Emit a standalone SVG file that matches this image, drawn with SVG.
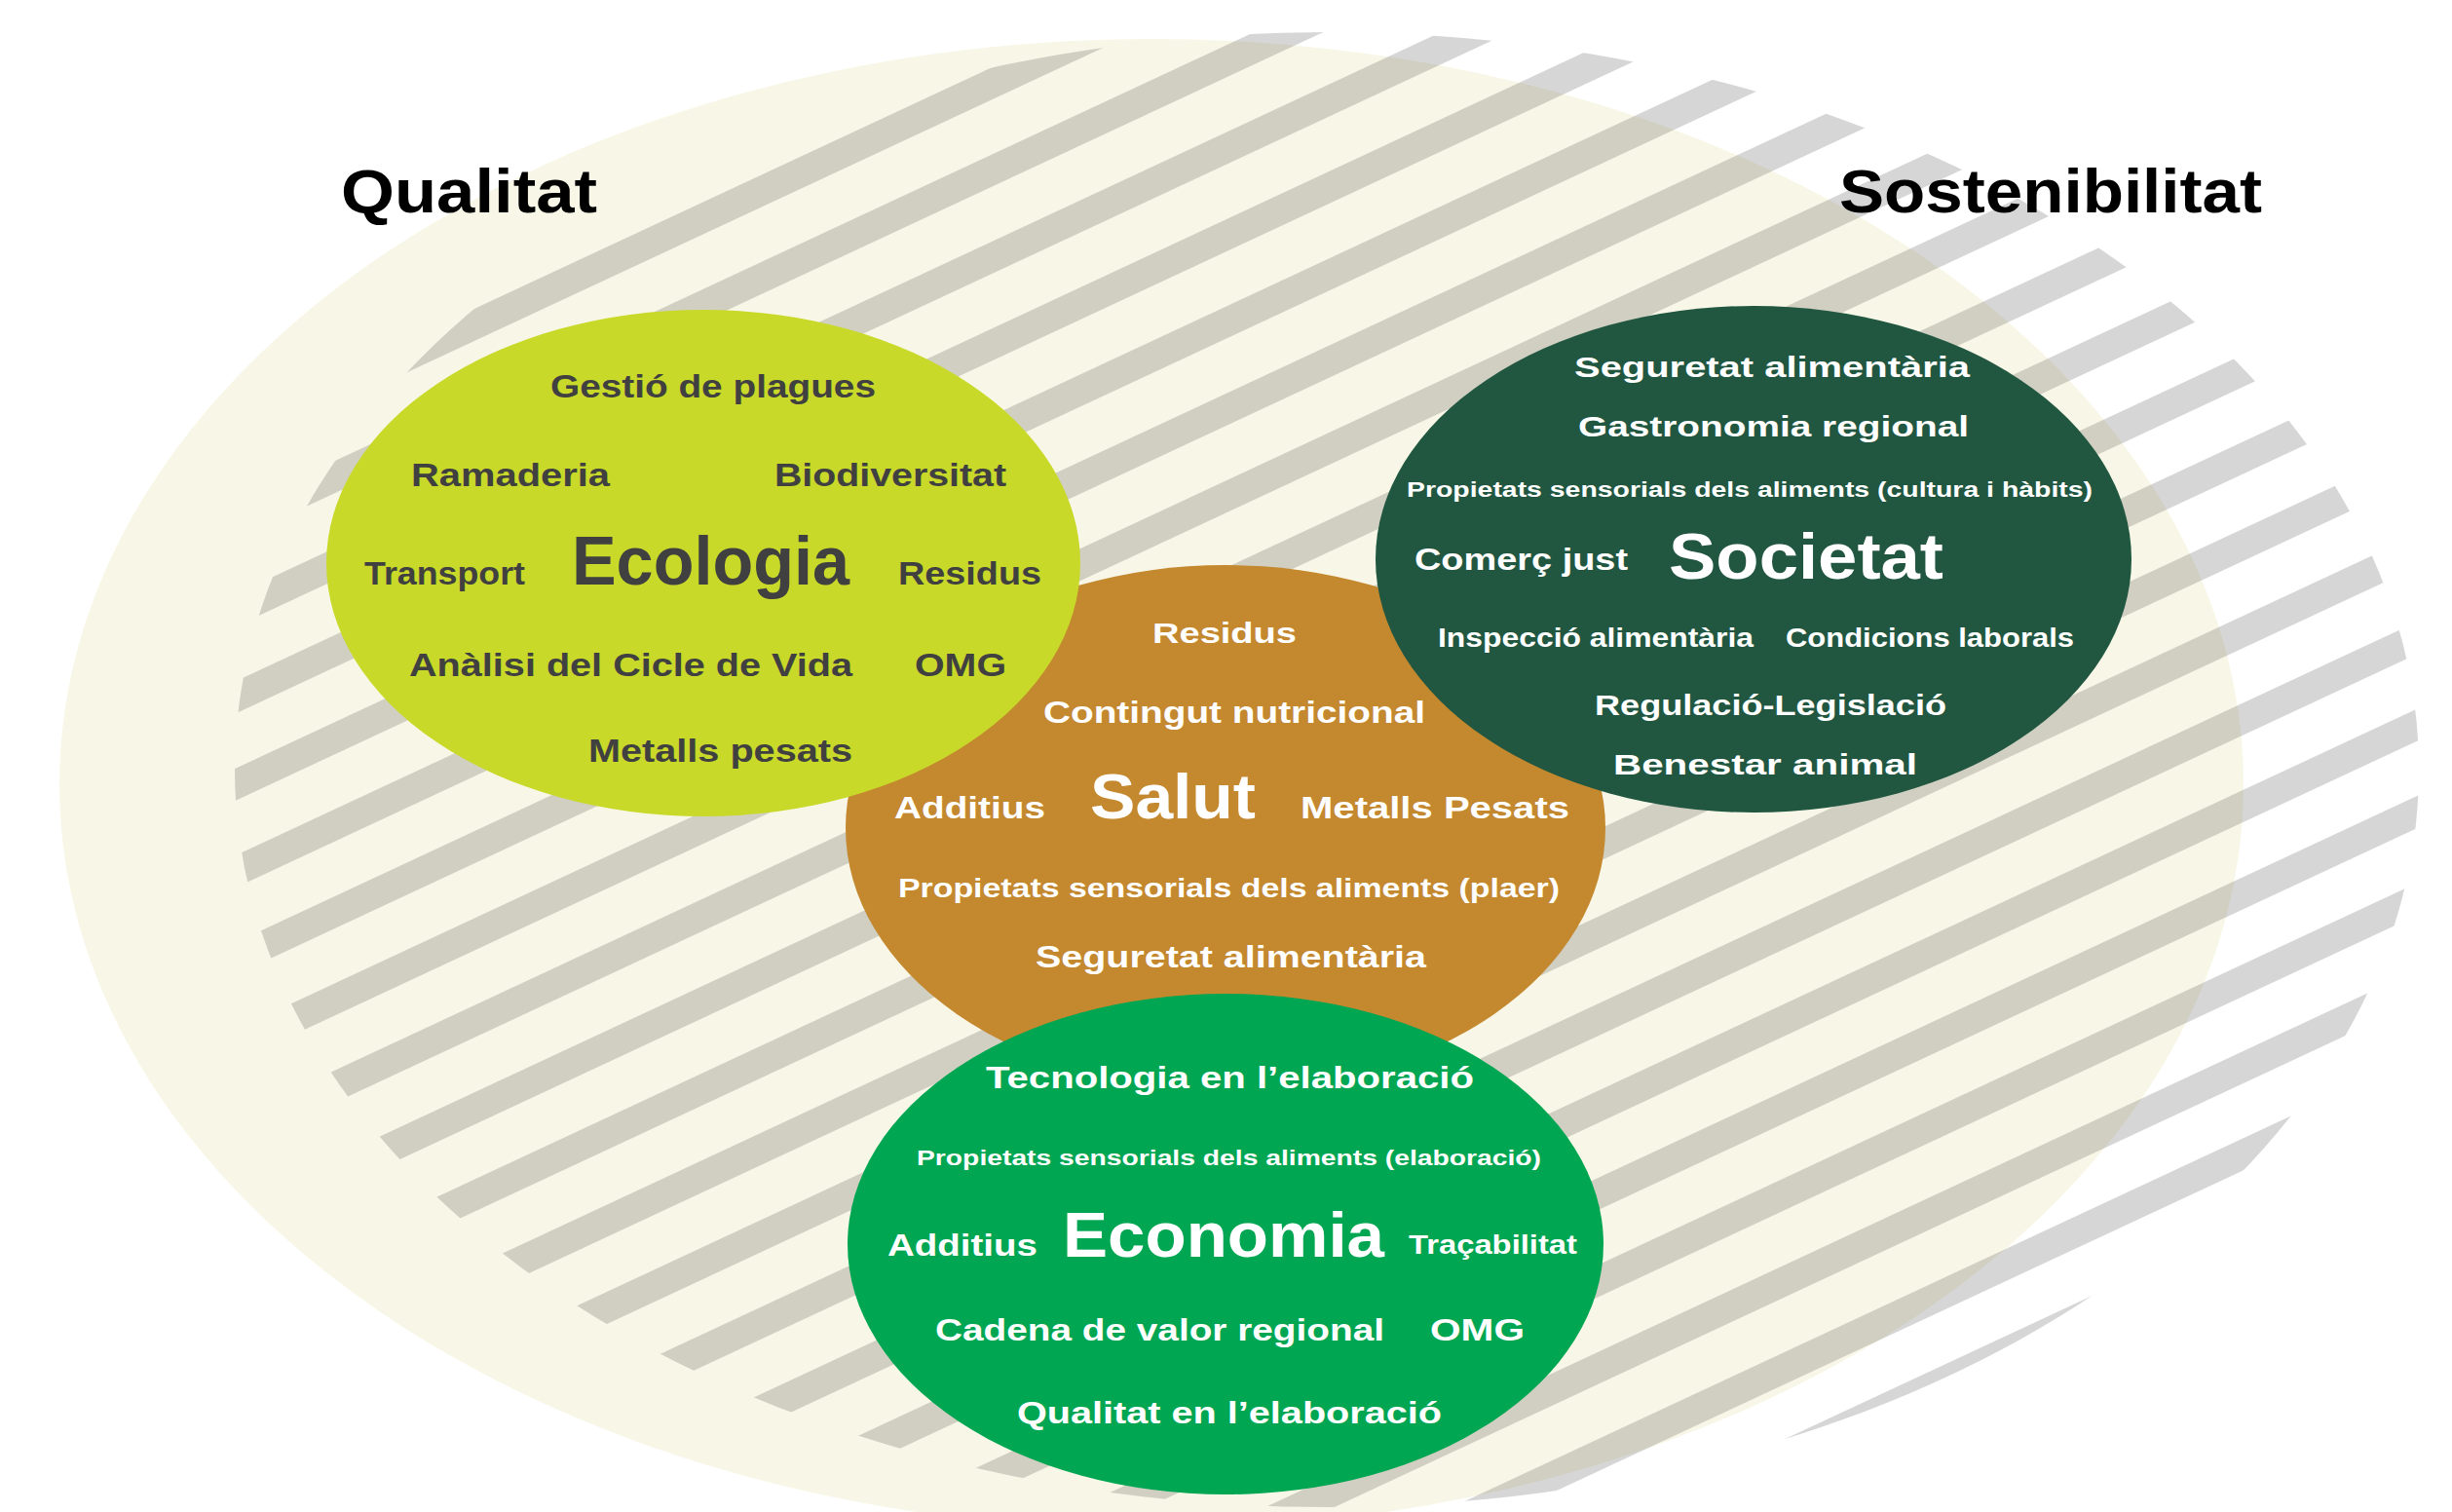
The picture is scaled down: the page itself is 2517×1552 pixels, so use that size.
<svg xmlns="http://www.w3.org/2000/svg" width="2517" height="1552" viewBox="0 0 2517 1552">
<defs>
<pattern id="stripes" patternUnits="userSpaceOnUse" width="100" height="81" patternTransform="rotate(-25)">
<rect x="0" y="7" width="100" height="30" fill="#000" fill-opacity="0.16"/>
</pattern>
<style>
text{font-family:"Liberation Sans",Arial,Helvetica,sans-serif;font-weight:bold}
.t{fill:#000}
.d{fill:#404040}
.w{fill:#ffffff}
</style>
</defs>
<rect x="0" y="0" width="2517" height="1552" fill="#ffffff"/>
<g id="background">
<ellipse cx="1182" cy="805" rx="1121" ry="765" fill="#f8f7e7"/>
<ellipse cx="1362" cy="790" rx="1121" ry="757" fill="url(#stripes)"/>
</g>
<g id="titles">
<text class="t" x="350" y="218" font-size="63" textLength="263" lengthAdjust="spacingAndGlyphs">Qualitat</text>
<text class="t" x="1888" y="218" font-size="63" textLength="434" lengthAdjust="spacingAndGlyphs">Sostenibilitat</text>
</g>
<g id="connectors"></g>
<g id="node-salut">
<ellipse cx="1258" cy="850" rx="390" ry="270" fill="#c4882f"/>
<text class="w" x="1183" y="660" font-size="30" textLength="148" lengthAdjust="spacingAndGlyphs">Residus</text>
<text class="w" x="1071" y="742" font-size="32" textLength="392" lengthAdjust="spacingAndGlyphs">Contingut nutricional</text>
<text class="w" x="918" y="840" font-size="31" textLength="155" lengthAdjust="spacingAndGlyphs">Additius</text>
<text class="w" x="1119" y="840" font-size="64" textLength="170" lengthAdjust="spacingAndGlyphs">Salut</text>
<text class="w" x="1335" y="840" font-size="31" textLength="276" lengthAdjust="spacingAndGlyphs">Metalls Pesats</text>
<text class="w" x="922" y="921" font-size="27" textLength="679" lengthAdjust="spacingAndGlyphs">Propietats sensorials dels aliments (plaer)</text>
<text class="w" x="1063" y="993" font-size="31" textLength="401" lengthAdjust="spacingAndGlyphs">Seguretat alimentària</text>
</g>
<g id="node-ecologia">
<ellipse cx="722" cy="578" rx="387" ry="260" fill="#c8d92a"/>
<text class="d" x="565" y="408" font-size="34" textLength="334" lengthAdjust="spacingAndGlyphs">Gestió de plagues</text>
<text class="d" x="422" y="499" font-size="34" textLength="204" lengthAdjust="spacingAndGlyphs">Ramaderia</text>
<text class="d" x="795" y="499" font-size="34" textLength="238" lengthAdjust="spacingAndGlyphs">Biodiversitat</text>
<text class="d" x="374" y="600" font-size="34" textLength="165" lengthAdjust="spacingAndGlyphs">Transport</text>
<text class="d" x="587" y="600" font-size="70" textLength="285" lengthAdjust="spacingAndGlyphs">Ecologia</text>
<text class="d" x="922" y="600" font-size="34" textLength="147" lengthAdjust="spacingAndGlyphs">Residus</text>
<text class="d" x="420" y="694" font-size="34" textLength="455" lengthAdjust="spacingAndGlyphs">Anàlisi del Cicle de Vida</text>
<text class="d" x="939" y="694" font-size="34" textLength="94" lengthAdjust="spacingAndGlyphs">OMG</text>
<text class="d" x="604" y="782" font-size="34" textLength="271" lengthAdjust="spacingAndGlyphs">Metalls pesats</text>
</g>
<g id="node-societat">
<ellipse cx="1800" cy="574" rx="388" ry="260" fill="#215741"/>
<text class="w" x="1616" y="387" font-size="30" textLength="406" lengthAdjust="spacingAndGlyphs">Seguretat alimentària</text>
<text class="w" x="1620" y="448" font-size="30" textLength="401" lengthAdjust="spacingAndGlyphs">Gastronomia regional</text>
<text class="w" x="1444" y="510" font-size="22" textLength="704" lengthAdjust="spacingAndGlyphs">Propietats sensorials dels aliments (cultura i hàbits)</text>
<text class="w" x="1452" y="585" font-size="32" textLength="219" lengthAdjust="spacingAndGlyphs">Comerç just</text>
<text class="w" x="1713" y="594" font-size="66" textLength="282" lengthAdjust="spacingAndGlyphs">Societat</text>
<text class="w" x="1476" y="664" font-size="27" textLength="324" lengthAdjust="spacingAndGlyphs">Inspecció alimentària</text>
<text class="w" x="1833" y="664" font-size="27" textLength="296" lengthAdjust="spacingAndGlyphs">Condicions laborals</text>
<text class="w" x="1637" y="734" font-size="30" textLength="361" lengthAdjust="spacingAndGlyphs">Regulació-Legislació</text>
<text class="w" x="1656" y="795" font-size="30" textLength="312" lengthAdjust="spacingAndGlyphs">Benestar animal</text>
</g>
<g id="node-economia">
<ellipse cx="1258" cy="1277" rx="388" ry="257" fill="#00a651"/>
<text class="w" x="1012" y="1117" font-size="31" textLength="501" lengthAdjust="spacingAndGlyphs">Tecnologia en l’elaboració</text>
<text class="w" x="941" y="1196" font-size="22" textLength="641" lengthAdjust="spacingAndGlyphs">Propietats sensorials dels aliments (elaboració)</text>
<text class="w" x="911" y="1289" font-size="31" textLength="154" lengthAdjust="spacingAndGlyphs">Additius</text>
<text class="w" x="1091" y="1290" font-size="64" textLength="330" lengthAdjust="spacingAndGlyphs">Economia</text>
<text class="w" x="1446" y="1287" font-size="28" textLength="173" lengthAdjust="spacingAndGlyphs">Traçabilitat</text>
<text class="w" x="960" y="1376" font-size="31" textLength="461" lengthAdjust="spacingAndGlyphs">Cadena de valor regional</text>
<text class="w" x="1468" y="1376" font-size="31" textLength="97" lengthAdjust="spacingAndGlyphs">OMG</text>
<text class="w" x="1044" y="1461" font-size="31" textLength="436" lengthAdjust="spacingAndGlyphs">Qualitat en l’elaboració</text>
</g>
</svg>
